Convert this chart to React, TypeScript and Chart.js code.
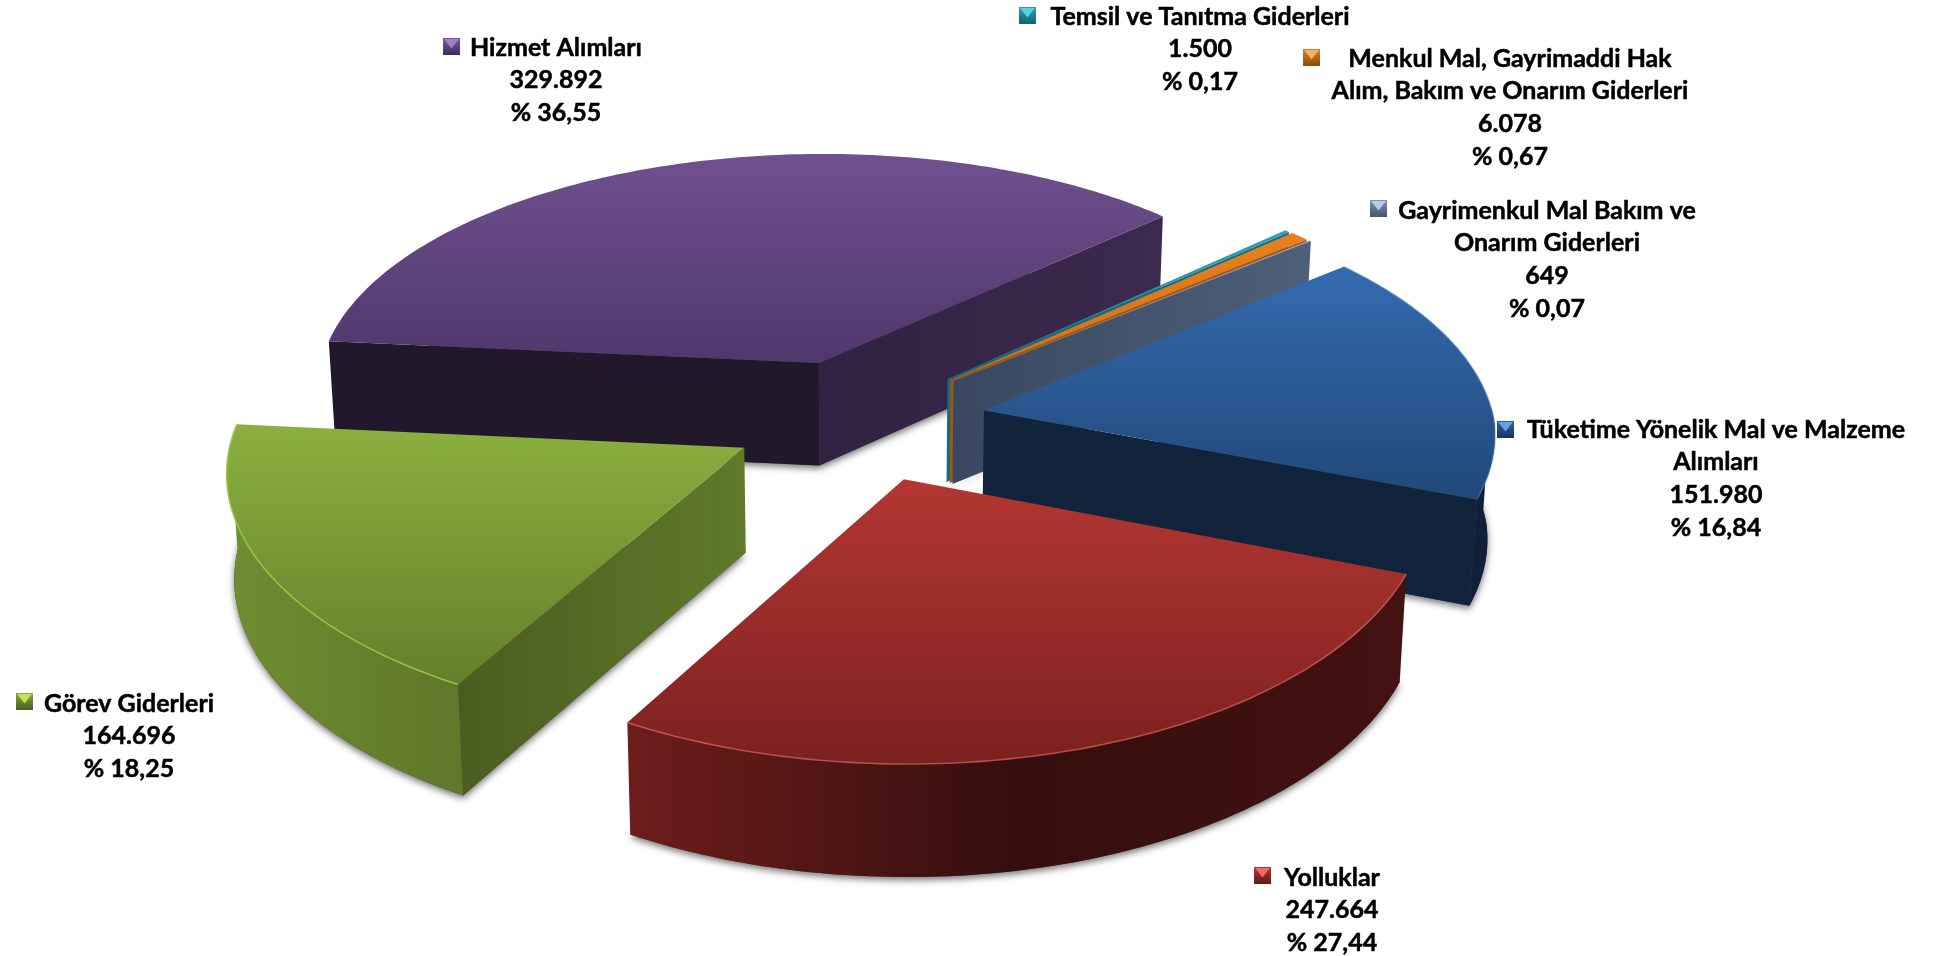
import React, { useEffect, useRef } from "react";
import { Chart, registerables } from "chart.js";

Chart.register(...registerables);

// ---------- data ----------
const categories = [
  "Hizmet Alımları",
  "Temsil ve Tanıtma Giderleri",
  "Menkul Mal, Gayrimaddi Hak Alım, Bakım ve Onarım Giderleri",
  "Gayrimenkul Mal Bakım ve Onarım Giderleri",
  "Tüketime Yönelik Mal ve Malzeme Alımları",
  "Yolluklar",
  "Görev Giderleri",
];
const values = [329892, 1500, 6078, 649, 151980, 247664, 164696];
const valueLabels = ["329.892", "1.500", "6.078", "649", "151.980", "247.664", "164.696"];
const percentLabels = ["% 36,55", "% 0,17", "% 0,67", "% 0,07", "% 16,84", "% 27,44", "% 18,25"];
const nameLines = [
  ["Hizmet Alımları"],
  ["Temsil ve Tanıtma Giderleri"],
  ["Menkul Mal, Gayrimaddi Hak", "Alım, Bakım ve Onarım Giderleri"],
  ["Gayrimenkul Mal Bakım ve", "Onarım Giderleri"],
  ["Tüketime Yönelik Mal ve Malzeme", "Alımları"],
  ["Yolluklar"],
  ["Görev Giderleri"],
];

// ---------- styles ----------
const explode = [0.26, 0.24, 0.24, 0.24, 0.25, 0.25, 0.26];
const nudge = [
  [-0.0135, 0.005],
  [-0.016, -0.01],
  [-0.014, -0.01],
  [-0.012, -0.01],
  [-0.0165, 0],
  [-0.013, 0.003],
  [-0.0074, -0.0057],
];
const topColors = [
  ["#70508f", "#50376c"],
  ["#2ba3b8", "#1f7f90"],
  ["#e8801f", "#d06f18"],
  ["#95a9c5", "#7d92b0"],
  ["#346bb0", "#214878"],
  ["#b43632", "#7b211f"],
  ["#8bb03f", "#64802b"],
];
const startWall = [
  ["#21182c", "#21182c"],
  ["#1b6a78", "#1b6a78"],
  ["#a3560f", "#a3560f"],
  ["#4a5c78", "#4a5c78"],
  ["#12243c", "#12243c"],
  ["#3a100f", "#3a100f"],
  ["#5f7a2b", "#4b5c20"],
];
const endWall = [
  ["#302240", "#3d2a4f"],
  ["#1b6a78", "#1b6a78"],
  ["#a3560f", "#a3560f"],
  ["#394860", "#4e5f7a"],
  ["#12243c", "#10233b"],
  ["#3a100f", "#3a100f"],
  ["#5f7a2b", "#5f7a2b"],
];
const outerWall = [
  ["#3d2a4f", "#2c1f3a"],
  ["#1b6a78", "#1b6a78"],
  ["#a3560f", "#a3560f"],
  ["#4e5f7a", "#4e5f7a"],
  ["#10233b", "#0f2038"],
  ["#6e1d1b", "#340e0d", "#431211"],
  ["#6f8d31", "#4c5e21"],
];
const rimColors = [null, null, null, null, "rgba(70,120,180,0.5)", "rgba(200,90,85,0.8)", "rgba(160,200,70,0.9)"];
const drawOrder = [0, 1, 2, 3, 4, 6, 5];

const labelCenters = [
  [556, 48],
  [1200, 17],
  [1510, 59],
  [1547, 211],
  [1716, 430],
  [1332, 878],
  [129, 704],
];
const markerPos = [
  [443, 38],
  [1019, 7],
  [1303, 49],
  [1370, 200],
  [1497, 421],
  [1254, 867],
  [16, 693],
];
const markerColors = [
  ["#a080c8", "#7a5a9f", "#3f2c58"],
  ["#55d0e4", "#2da0b5", "#14616f"],
  ["#f8b060", "#e07f20", "#8a4a10"],
  ["#b8cbe4", "#7f93b2", "#44546e"],
  ["#6aa0e0", "#2f62a4", "#16345c"],
  ["#f06a64", "#b43632", "#5e1a18"],
  ["#bfe060", "#86a93d", "#4a5f20"],
];
const LINE_H = 32.6;
const FONT = "bold 25px Lato";
const TEXT_YSCALE = 0.96;

// projection of the pie plane
const CX = 867, CY = 420, RX = 510, RY = 242, P = 0.104, WALL = 104, CONV = 0.012;

function project(u: number, v: number, low = false) {
  const s = 1 / (1 - P * v);
  let x = CX + RX * u * (s >= 1 ? Math.pow(s, 0.8) : s);
  let y = CY + RY * v * s;
  if (low) {
    x += (CX - x) * CONV;
    y += WALL * Math.pow(s, 0.6);
  }
  return [x, y];
}

function hGrad(ctx: CanvasRenderingContext2D, x0: number, x1: number, stops: string[]) {
  const g = ctx.createLinearGradient(x0, 0, x1 === x0 ? x0 + 1 : x1, 0);
  stops.forEach((c, i) => g.addColorStop(i / (stops.length - 1), c));
  return g;
}

function poly(ctx: CanvasRenderingContext2D, pts: number[][]) {
  ctx.beginPath();
  pts.forEach((p, i) => (i ? ctx.lineTo(p[0], p[1]) : ctx.moveTo(p[0], p[1])));
  ctx.closePath();
}

const pie3d = {
  id: "pie3d",
  beforeDatasetsDraw(chart: any) {
    const ctx: CanvasRenderingContext2D = chart.ctx;
    const arcs = chart.getDatasetMeta(0).data;
    ctx.save();
    drawOrder.forEach((i) => {
      const arc = arcs[i];
      const a0 = arc.startAngle, a1 = arc.endAngle, mid = (a0 + a1) / 2;
      const d = arc.options.offset / 100;
      const u0 = d * Math.cos(mid) + nudge[i][0];
      const v0 = d * Math.sin(mid) + nudge[i][1];
      const n = Math.max(2, Math.ceil(((a1 - a0) * 180) / Math.PI));
      const rim: number[][] = [];
      const rimLow: number[][] = [];
      const frontTop: number[][] = [];
      const frontLow: number[][] = [];
      for (let k = 0; k <= n; k++) {
        const a = a0 + ((a1 - a0) * k) / n;
        const u = u0 + Math.cos(a), v = v0 + Math.sin(a);
        const t = project(u, v), b = project(u, v, true);
        rim.push(t);
        rimLow.push(b);
        if (Math.sin(a) > -0.02) {
          frontTop.push(t);
          frontLow.push(b);
        }
      }
      const apex = project(u0, v0);
      const apexLow = project(u0, v0, true);
      const xs = rim.map((p) => p[0]);
      const ys = rim.map((p) => p[1]).concat(apex[1]);
      const minX = Math.min(...xs, apex[0]), maxX = Math.max(...xs, apex[0]);

      // soft shadow under the slice
      ctx.save();
      ctx.shadowColor = "rgba(0,0,0,0.55)";
      ctx.shadowBlur = 7;
      ctx.shadowOffsetY = 3;
      ctx.fillStyle = "#444";
      poly(ctx, [apexLow, ...rimLow]);
      ctx.fill();
      ctx.restore();

      // outer wall, front part only
      if (frontTop.length > 1) {
        ctx.fillStyle = hGrad(ctx, minX, maxX, outerWall[i]);
        poly(ctx, [...frontTop, ...frontLow.slice().reverse()]);
        ctx.fill();
      }

      // radial walls facing the viewer only
      const first = rim[0], last = rim[n];
      if (Math.cos(a0) < 0) {
        ctx.fillStyle = hGrad(ctx, apex[0], first[0], startWall[i]);
        poly(ctx, [apex, first, rimLow[0], apexLow]);
        ctx.fill();
      }
      if (Math.cos(a1) > 0) {
        ctx.fillStyle = hGrad(ctx, apex[0], last[0], endWall[i]);
        poly(ctx, [apex, last, rimLow[n], apexLow]);
        ctx.fill();
      }

      // top face
      const g = ctx.createLinearGradient(0, Math.min(...ys), 0, Math.max(...ys));
      g.addColorStop(0, topColors[i][0]);
      g.addColorStop(1, topColors[i][1]);
      ctx.fillStyle = g;
      poly(ctx, [apex, ...rim]);
      ctx.fill();

      // rim highlight
      const rc = rimColors[i];
      if (rc) {
        ctx.strokeStyle = rc;
        ctx.lineWidth = 1.6;
        ctx.beginPath();
        rim.forEach((p, k) => (k ? ctx.lineTo(p[0], p[1]) : ctx.moveTo(p[0], p[1])));
        ctx.stroke();
      }
    });
    ctx.restore();
    return false;
  },
  afterDraw(chart: any) {
    const ctx: CanvasRenderingContext2D = chart.ctx;
    ctx.save();
    ctx.font = FONT;
    ctx.textAlign = "center";
    ctx.textBaseline = "middle";
    categories.forEach((_, i) => {
      const lines = [...nameLines[i], valueLabels[i], percentLabels[i]];
      const [x, y] = labelCenters[i];
      ctx.fillStyle = "#000";
      ctx.strokeStyle = "#000";
      ctx.lineWidth = 0.5;
      lines.forEach((t, k) => {
        ctx.save();
        ctx.translate(x, y + k * LINE_H);
        ctx.scale(1, TEXT_YSCALE);
        ctx.fillText(t, 0, 0);
        ctx.strokeText(t, 0, 0);
        ctx.restore();
      });
      const [mx, my] = markerPos[i];
      const w = 17, h = 17;
      const c = markerColors[i];
      const g = ctx.createLinearGradient(0, my, 0, my + h);
      g.addColorStop(0, c[1]);
      g.addColorStop(1, c[2]);
      ctx.fillStyle = g;
      ctx.fillRect(mx, my, w, h);
      ctx.fillStyle = c[0];
      ctx.beginPath();
      ctx.moveTo(mx + 1, my + 1);
      ctx.lineTo(mx + w - 1, my + 1);
      ctx.lineTo(mx + w / 2, my + h * 0.62);
      ctx.closePath();
      ctx.fill();
    });
    ctx.restore();
  },
};

export default function App() {
  const ref = useRef<HTMLCanvasElement | null>(null);
  useEffect(() => {
    const chart = new Chart(ref.current as HTMLCanvasElement, {
      type: "pie",
      data: {
        labels: categories,
        datasets: [
          {
            data: values,
            offset: explode.map((f) => f * 100),
            backgroundColor: topColors.map((c) => c[0]),
            borderWidth: 0,
          },
        ],
      },
      options: {
        responsive: false,
        animation: false,
        rotation: 275.5,
        plugins: { legend: { display: false }, tooltip: { enabled: false } },
        events: [],
      },
      plugins: [pie3d],
    } as any);
    return () => chart.destroy();
  }, []);
  return (
    <canvas
      ref={ref}
      width={1935}
      height={956}
      style={{ position: "fixed", left: 0, top: 0, width: 1935, height: 956, display: "block", background: "#fff" }}
    />
  );
}
